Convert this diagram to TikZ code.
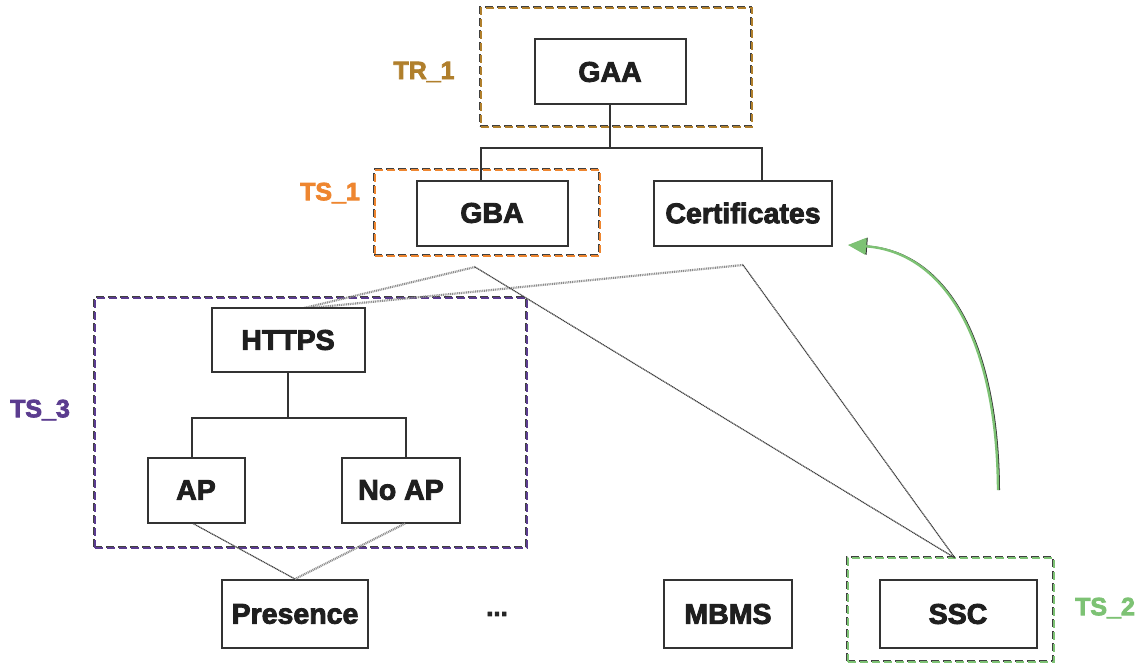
\documentclass[tikz,border=0pt]{standalone}
\usepackage{fontspec}
\setmainfont{Liberation Sans}[BoldFeatures={FakeBold=3}]
\usetikzlibrary{arrows.meta,positioning}
\definecolor{boxline}{HTML}{333333}
\definecolor{trcol}{HTML}{B07F2C}
\definecolor{tsone}{HTML}{EE8630}
\definecolor{tsthree}{HTML}{5B3C8F}
\definecolor{tstwo}{HTML}{7DC274}
\tikzset{
  blk/.style={draw=boxline, line width=2pt, fill=white, inner sep=0pt,
    font=\fontsize{28.5}{32}\selectfont\bfseries, text=black!88},
  grp/.style={draw=#1, line width=2.2pt, dash pattern=on 8pt off 4pt, inner sep=0pt,
    preaction={draw=black!75, line width=1.4pt, dash pattern=on 8pt off 4pt,
      transform canvas={shift={(-1pt,1pt)}}}},
  lbl/.style={text=#1, font=\fontsize{25}{28}\selectfont\bfseries, inner sep=0pt},
  tree/.style={draw=boxline, line width=2pt},
  rel/.style={draw=black!45, line width=2.2pt, dash pattern=on 1pt off 0.8pt},
  reldark/.style={draw=black!75, line width=1.2pt, dash pattern=on 1.2pt off 0.6pt},
}
\begin{document}
\begin{tikzpicture}[x=1pt,y=-1pt]
\useasboundingbox (0,0) rectangle (1142,666);
% group boxes
\node[grp=trcol, minimum width=271pt, minimum height=119pt] (tr1) at (616.5,67.5) {};
\node[grp=tsone, minimum width=225pt, minimum height=86pt] (ts1) at (487.5,213) {};
\node[grp=tsthree, minimum width=432pt, minimum height=250pt] (ts3) at (311,423) {};
\node[grp=tstwo, minimum width=206pt, minimum height=104pt] (ts2) at (951,610) {};
% labels
\node[lbl=trcol] (ltr1) at (424,72) {TR\_1};
\node[lbl=tsone] (lts1) at (330,193) {TS\_1};
\node[lbl=tsthree] (lts3) at (40,410) {TS\_3};
\node[lbl=tstwo] (lts2) at (1105,608) {TS\_2};
% relation lines
\coordinate (gA) at (475,267);
\coordinate (cA) at (743,265);
\coordinate (hT) at (300,309);
\coordinate (sT) at (955,558);
\draw[rel] (gA) -- (hT);
\draw[rel] (cA) -- (hT);
\draw[reldark] (gA) -- (sT);
\draw[reldark] (cA) -- (sT);
% blocks
\node[blk, minimum width=151pt, minimum height=65pt] (GAA) at (610,72) {GAA};
\node[blk, minimum width=151pt, minimum height=65pt] (GBA) at (492,213) {GBA};
\node[blk, minimum width=178pt, minimum height=65pt] (Cert) at (743,213) {Certificates};
\node[blk, minimum width=153pt, minimum height=64pt] (HTTPS) at (288,340) {HTTPS};
\node[blk, minimum width=97pt, minimum height=65pt] (AP) at (196,490) {AP};
\node[blk, minimum width=118pt, minimum height=65pt] (NoAP) at (401,490) {No AP};
\node[blk, minimum width=146pt, minimum height=68pt] (Pres) at (295,614) {Presence};
\node[font=\fontsize{26}{30}\selectfont\bfseries, text=black!85] (dots) at (497,614) {...};
\node[blk, minimum width=128pt, minimum height=68pt] (MBMS) at (728,614) {MBMS};
\node[blk, minimum width=157pt, minimum height=68pt] (SSC) at (958,614) {SSC};
% AP lines to presence
\draw[reldark] ([xshift=-3pt]AP.south) -- (Pres.north);
\draw[rel] ([xshift=4pt]NoAP.south) -- (Pres.north);
% trees
\coordinate (j1) at (610,148);
\draw[tree] (GAA.south) -- (j1);
\draw[tree] ([xshift=-11pt]GBA.north) |- (j1) -| ([xshift=19pt]Cert.north);
\coordinate (j2) at (288,418);
\draw[tree] (HTTPS.south) -- (j2);
\draw[tree] ([xshift=-4pt]AP.north) |- (j2) -| ([xshift=5pt]NoAP.north);
% green arrow
\coordinate (gs) at (998,490);
\coordinate (tip) at (848,245);
\draw[draw=tstwo, line width=2.4pt,
  preaction={draw=black!80, line width=1.6pt, transform canvas={shift={(1.2pt,0pt)}}},
  -{Triangle[length=18pt,width=17pt,fill=tstwo,line width=1pt]}]
  (gs) .. controls (997,340) and (945,252) .. (tip);
\end{tikzpicture}
\end{document}
